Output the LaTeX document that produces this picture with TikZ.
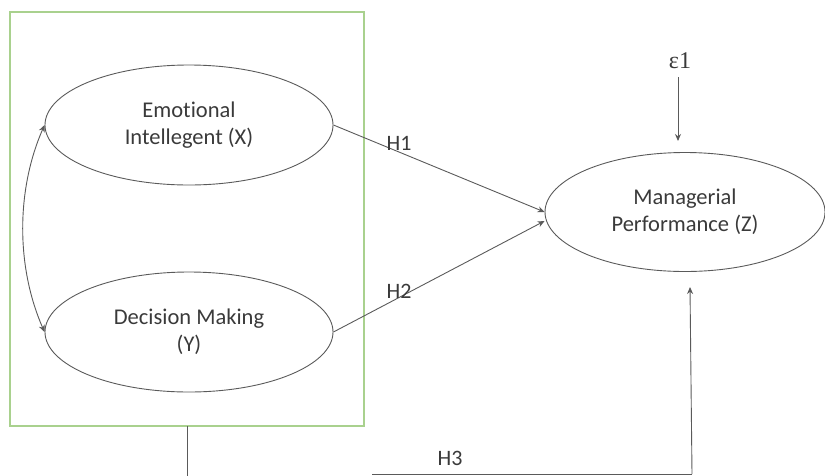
\documentclass[tikz,border=0pt]{standalone}
\usepackage{fontspec}
\setmainfont[Ligatures=NoCommon]{Carlito}
\newfontfamily\serifeps{Liberation Serif}
\usetikzlibrary{arrows.meta,shapes.geometric}
\definecolor{boxgreen}{HTML}{A9D18E}
\definecolor{linegray}{HTML}{5A5A5A}
\definecolor{txtgray}{HTML}{3A3A3A}
\tikzset{
  latent/.style={ellipse, draw=linegray, line width=0.9pt, minimum width=288pt, minimum height=120pt, inner sep=0pt,
    align=center, text=txtgray, font=\fontsize{22.5}{27}\selectfont},
  conn/.style={draw=linegray, line width=0.9pt},
  tip/.style={-{Stealth[length=7pt,width=6pt]}},
  hlabel/.style={text=txtgray, font=\fontsize{22}{26}\selectfont, inner sep=0pt}
}
\begin{document}
\begin{tikzpicture}[x=1pt,y=-1pt]
\useasboundingbox (0,0) rectangle (825,475);
% green box
\draw[boxgreen, line width=1.2pt] (10,12) rectangle (364,426);
\coordinate (boxbot) at (187,426);
% ellipses
\node[latent] (X) at (189,125) {Emotional\\Intellegent (X)};
\node[latent] (Y) at (189,332) {Decision Making\\(Y)};
\node[latent, minimum width=280pt, minimum height=119pt] (Z) at (685,212) {Managerial\\Performance (Z)};
% error term
\node[font=\serifeps\fontsize{24}{26}\selectfont, text=txtgray, inner sep=0pt] (E) at (680,61) {ε1};
\coordinate (Etop) at (678,77);
\coordinate (Etip) at (678,141);
\draw[conn,tip] (Etop) -- (Etip);
% H1, H2
\draw[conn,tip] (X.east) -- (Z.west);
\draw[conn,tip] (Y.east) -- ([yshift=-9pt]Z.west);
\node[hlabel] (H1) at (399,143) {H1};
\node[hlabel] (H2) at (399,291) {H2};
% correlation
\draw[conn,{Stealth[length=7pt,width=6pt]}-{Stealth[length=7pt,width=6pt]}] (X.west) .. controls (16,190) and (16,267) .. (Y.west);
% H3 path
\coordinate (b1) at (187,476);
\coordinate (c1) at (372,474);
\coordinate (c2) at (692,474);
\coordinate (ztip) at (690,287);
\draw[conn] (boxbot) -- (b1);
\draw[conn] (c1) -- (c2);
\draw[conn,tip] (c2) -- (ztip);
\node[hlabel] (H3) at (450,458) {H3};
\end{tikzpicture}
\end{document}
